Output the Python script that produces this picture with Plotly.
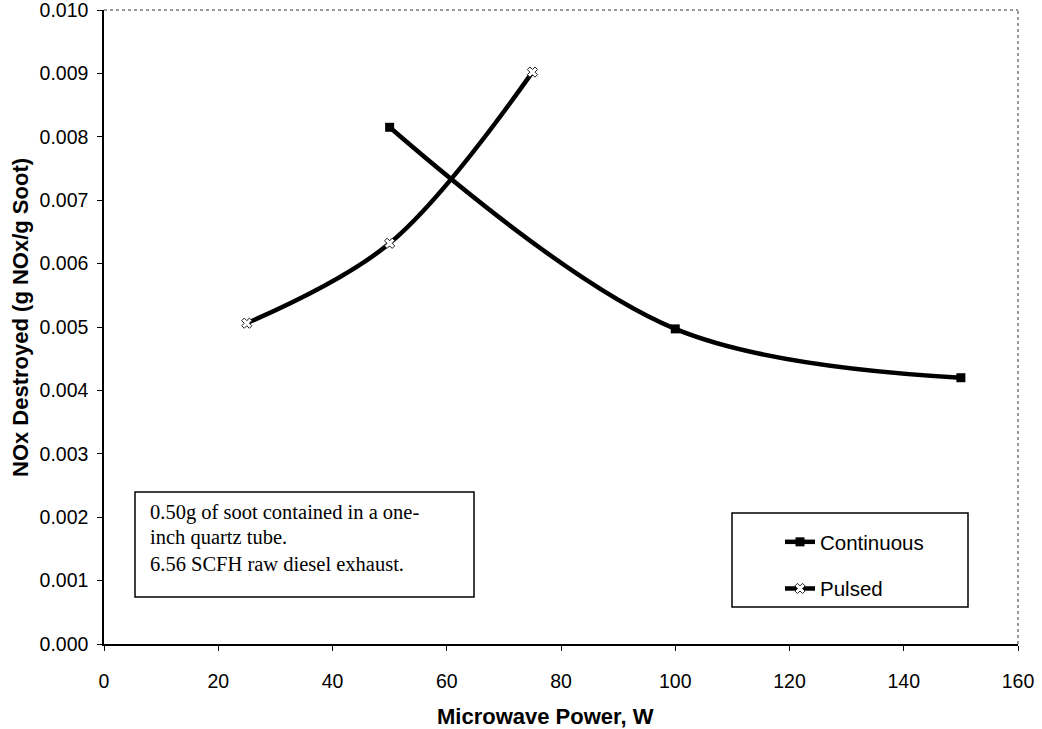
import plotly.graph_objects as go

# Data
cont_x = [50, 100, 150]
cont_y = [0.00815, 0.00497, 0.00420]
puls_x = [25, 50, 75]
puls_y = [0.00506, 0.00632, 0.00902]

x_title = "Microwave Power, W"
y_title = "NOx Destroyed (g NOx/g Soot)"
note_lines = ["0.50g of soot contained in a one-", "inch quartz tube.", "6.56 SCFH raw diesel exhaust."]

fig = go.Figure()
fig.add_trace(go.Scatter(
    x=cont_x, y=cont_y, name="Continuous", mode="lines+markers", legendgroup="c",
    line=dict(color="black", width=4.5, shape="spline", smoothing=1.0),
    marker=dict(symbol="square", size=9, color="black"),
))
fig.add_trace(go.Scatter(
    x=puls_x, y=puls_y, name="Pulsed", mode="lines+markers", legendgroup="p",
    line=dict(color="black", width=4.5, shape="spline", smoothing=1.0),
    marker=dict(symbol="x", size=9, color="white", line=dict(color="#222", width=1)),
))

L, R, T, B = 104, 24, 10, 85
W, H = 1042, 729
pw, ph = W - L - R, H - T - B

def px2paper(x, y):
    return (x - L) / pw, (H - B - y) / ph

fig.update_layout(
    width=W, height=H,
    margin=dict(l=L, r=R, t=T, b=B, autoexpand=False),
    paper_bgcolor="white", plot_bgcolor="white",
    font=dict(family="Arial, Liberation Sans", size=18, color="black"),
    showlegend=True,
    legend=dict(
        x=px2paper(780, 0)[0], y=px2paper(0, 522)[1], xanchor="left", yanchor="top",
        bgcolor="rgba(0,0,0,0)", borderwidth=0,
        font=dict(family="Arial, Liberation Sans", size=20.5),
        tracegroupgap=17, itemwidth=30,
    ),
)

fig.update_xaxes(
    range=[0, 160], dtick=20, tick0=0, showgrid=False, zeroline=False, automargin=False,
    showline=True, linecolor="black", linewidth=1.5,
    ticks="outside", ticklen=5, tickcolor="black", ticklabelstandoff=14,
    ticklabeloverflow="allow",
    tickfont=dict(size=19.5),
)
fig.update_yaxes(
    range=[0, 0.010], dtick=0.001, tick0=0, tickformat=".3f", showgrid=False, zeroline=False,
    automargin=False,
    showline=True, linecolor="black", linewidth=1.5,
    ticks="outside", ticklen=5, tickcolor="black", ticklabelstandoff=5,
    ticklabeloverflow="allow",
    tickfont=dict(size=19.5),
)

# axis titles
ax, ay = px2paper(545, 716)
fig.add_annotation(x=ax, y=ay, xref="paper", yref="paper", text="<b>" + x_title + "</b>",
                   showarrow=False, xanchor="center", yanchor="middle",
                   font=dict(family="Arial, Liberation Sans", size=22))
ax, ay = px2paper(20, 318)
fig.add_annotation(x=ax, y=ay, xref="paper", yref="paper", text="<b>" + y_title + "</b>",
                   showarrow=False, xanchor="center", yanchor="middle", textangle=-90,
                   font=dict(family="Arial, Liberation Sans", size=22))

# top and right plot-area border (gray dotted)
fig.add_shape(type="line", xref="paper", yref="paper", x0=0, x1=1, y0=1, y1=1,
              line=dict(color="#777", width=1.5, dash="dot"))
fig.add_shape(type="line", xref="paper", yref="paper", x0=1, x1=1, y0=0, y1=1,
              line=dict(color="#777", width=1.5, dash="dot"))

# text box
x0, y0 = px2paper(135, 597)
x1, y1 = px2paper(474, 492)
fig.add_shape(type="rect", xref="paper", yref="paper", x0=x0, x1=x1, y0=y0, y1=y1,
              line=dict(color="black", width=1.5), fillcolor="white", layer="below")
for txt, yy in zip(note_lines, [512, 537, 564]):
    ax, ay = px2paper(148, yy)
    fig.add_annotation(x=ax, y=ay, xref="paper", yref="paper", text=txt, showarrow=False,
                       xanchor="left", yanchor="middle",
                       font=dict(family="Liberation Serif, Times New Roman", size=20.5, color="black"))

# legend box
lx0, ly0 = px2paper(732, 607)
lx1, ly1 = px2paper(968, 513)
fig.add_shape(type="rect", xref="paper", yref="paper", x0=lx0, x1=lx1, y0=ly0, y1=ly1,
              line=dict(color="black", width=1.5), fillcolor="white", layer="below")

fig.write_html("out.html", config={"displayModeBar": False},
               post_script="document.body.style.margin='0';document.body.style.overflow='hidden';")
